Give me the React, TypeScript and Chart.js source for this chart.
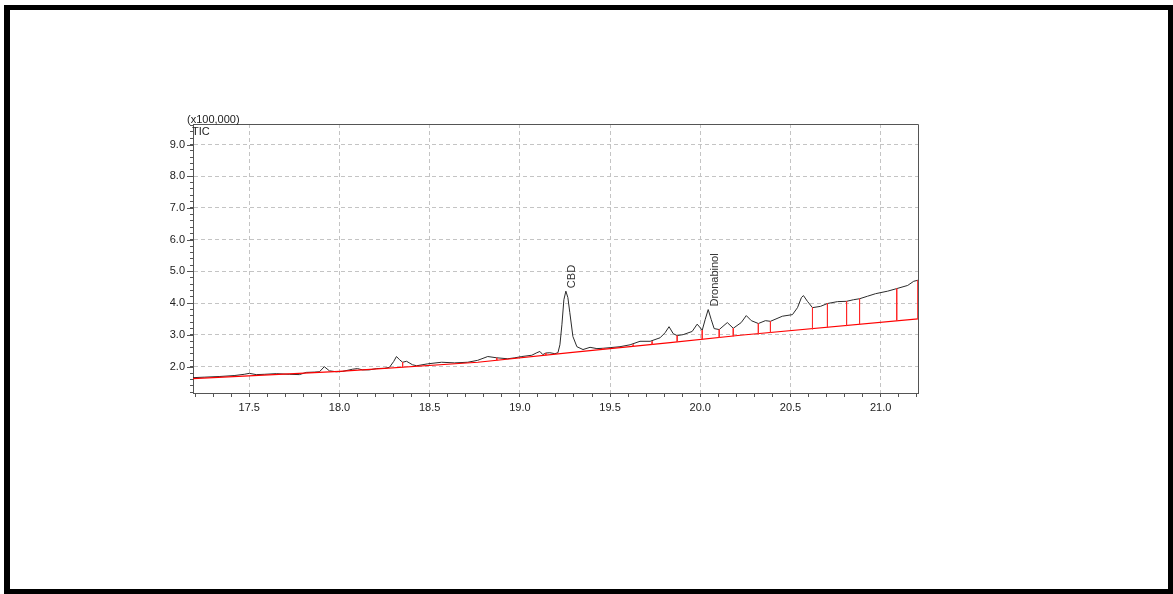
import React, { useEffect, useRef } from 'react';
import { Chart, registerables } from 'chart.js';

Chart.register(...registerables);

// Retention time (min) of the TIC trace
const ticTimes = [
  17.172, 17.25, 17.333, 17.416, 17.472, 17.5, 17.539, 17.583, 17.65, 17.722,
  17.778, 17.816, 17.861, 17.889, 17.916, 17.944, 17.983, 18.016, 18.072, 18.1,
  18.127, 18.166, 18.205, 18.25, 18.277, 18.3, 18.316, 18.333, 18.35, 18.372,
  18.405, 18.428, 18.489, 18.566, 18.638, 18.711, 18.766, 18.822, 18.872, 18.933,
  18.972, 19.011, 19.066, 19.094, 19.111, 19.127, 19.144, 19.166, 19.194, 19.211,
  19.222, 19.233, 19.244, 19.255, 19.266, 19.277, 19.294, 19.316, 19.35, 19.389,
  19.427, 19.461, 19.5, 19.555, 19.611, 19.666, 19.722, 19.777, 19.805, 19.827,
  19.85, 19.872, 19.905, 19.955, 19.983, 20.011, 20.027, 20.044, 20.061, 20.077,
  20.105, 20.15, 20.183, 20.227, 20.255, 20.283, 20.322, 20.361, 20.389, 20.455,
  20.511, 20.539, 20.561, 20.572, 20.594, 20.622, 20.666, 20.705, 20.761, 20.811,
  20.85, 20.883, 20.927, 20.972, 21.039, 21.089, 21.15, 21.183, 21.211,
];
// Intensity (x100,000)
const ticValues = [
  1.65, 1.67, 1.69, 1.72, 1.76, 1.79, 1.75, 1.76, 1.78, 1.76,
  1.75, 1.82, 1.83, 1.84, 2.0, 1.87, 1.84, 1.85, 1.92, 1.94,
  1.9, 1.9, 1.94, 1.95, 1.98, 2.16, 2.32, 2.22, 2.14, 2.17,
  2.06, 2.03, 2.09, 2.14, 2.12, 2.14, 2.2, 2.32, 2.28, 2.25,
  2.28, 2.32, 2.36, 2.44, 2.48, 2.38, 2.43, 2.44, 2.41, 2.44,
  2.69, 3.32, 4.11, 4.38, 4.18, 3.7, 2.95, 2.63, 2.54, 2.61,
  2.57, 2.58, 2.6, 2.63, 2.69, 2.8, 2.8, 2.91, 3.07, 3.26,
  3.04, 2.98, 3.01, 3.11, 3.34, 3.15, 3.48, 3.8, 3.48, 3.2,
  3.17, 3.39, 3.21, 3.39, 3.61, 3.45, 3.36, 3.45, 3.43, 3.59,
  3.64, 3.86, 4.18, 4.24, 4.06, 3.86, 3.9, 3.99, 4.05, 4.06,
  4.11, 4.14, 4.22, 4.3, 4.38, 4.46, 4.56, 4.69, 4.73,
];

// Integration baseline (red)
const baselineTimes = [17.172, 18.0, 18.767, 19.278, 19.833, 20.222, 21.211];
const baselineValues = [1.62, 1.85, 2.14, 2.44, 2.76, 2.99, 3.51];

// Peak boundary drop lines (red verticals)
const dropTimes = [
  17.983, 18.35, 18.428, 18.872, 19.144, 19.461, 19.628, 19.733, 19.872, 20.011,
  20.105, 20.183, 20.322, 20.389, 20.622, 20.705, 20.811, 20.883, 21.089, 21.207,
];
const dropTops = [
  1.84, 2.14, 2.03, 2.28, 2.43, 2.58, 2.7, 2.8, 2.98, 3.15,
  3.17, 3.21, 3.36, 3.43, 3.86, 3.99, 4.06, 4.14, 4.46, 4.73,
];
const dropBottoms = [
  1.85, 1.98, 2.01, 2.2, 2.36, 2.55, 2.64, 2.7, 2.78, 2.86,
  2.91, 2.96, 3.02, 3.06, 3.18, 3.23, 3.28, 3.32, 3.44, 3.51,
];

// Peak annotations
const peakLabels = ['CBD', 'Dronabinol'];
const peakTimes = [19.255, 20.044];
const peakValues = [4.38, 3.8];

// Axis ticks
const xTickValues = [
  17.2, 17.3, 17.4, 17.5, 17.6, 17.7, 17.8, 17.9, 18.0, 18.1, 18.2, 18.3, 18.4,
  18.5, 18.6, 18.7, 18.8, 18.9, 19.0, 19.1, 19.2, 19.3, 19.4, 19.5, 19.6, 19.7,
  19.8, 19.9, 20.0, 20.1, 20.2, 20.3, 20.4, 20.5, 20.6, 20.7, 20.8, 20.9, 21.0,
  21.1, 21.2,
];
const xLabelTicks = [17.5, 18.0, 18.5, 19.0, 19.5, 20.0, 20.5, 21.0];
const yTickValues = [
  1.2, 1.4, 1.6, 1.8, 2.0, 2.2, 2.4, 2.6, 2.8, 3.0, 3.2, 3.4, 3.6, 3.8, 4.0,
  4.2, 4.4, 4.6, 4.8, 5.0, 5.2, 5.4, 5.6, 5.8, 6.0, 6.2, 6.4, 6.6, 6.8, 7.0,
  7.2, 7.4, 7.6, 7.8, 8.0, 8.2, 8.4, 8.6, 8.8, 9.0, 9.2, 9.4, 9.6,
];
const yLabelTicks = [2.0, 3.0, 4.0, 5.0, 6.0, 7.0, 8.0, 9.0];

const FONT = '"Liberation Sans", Arial, sans-serif';
const TEXT = '#222222';

const isIn = (list: number[], v: number) => list.some((m) => Math.abs(m - v) < 1e-6);

const overlayPlugin = {
  id: 'overlay',
  afterDraw(chart: any) {
    const { ctx, chartArea, scales } = chart;
    const xs = scales.x;
    const ys = scales.y;
    ctx.save();
    // top and right frame
    ctx.strokeStyle = '#555555';
    ctx.lineWidth = 1;
    ctx.beginPath();
    ctx.moveTo(Math.round(chartArea.left) + 0.5, Math.round(chartArea.top) + 0.5);
    ctx.lineTo(Math.round(chartArea.right) + 0.5, Math.round(chartArea.top) + 0.5);
    ctx.lineTo(Math.round(chartArea.right) + 0.5, Math.round(chartArea.bottom) + 0.5);
    ctx.stroke();
    // longer major y ticks
    ctx.beginPath();
    yLabelTicks.forEach((v) => {
      const py = Math.round(ys.getPixelForValue(v)) + 0.5;
      ctx.moveTo(chartArea.left - 6, py);
      ctx.lineTo(chartArea.left, py);
    });
    ctx.stroke();
    // axis captions
    ctx.fillStyle = TEXT;
    ctx.font = `11px ${FONT}`;
    ctx.textAlign = 'left';
    ctx.textBaseline = 'alphabetic';
    ctx.fillText('(x100,000)', chartArea.left - 6, chartArea.top - 1);
    ctx.fillText('TIC', chartArea.left - 1, chartArea.top + 11);
    // peak labels
    ctx.fillStyle = '#333333';
    peakLabels.forEach((label, i) => {
      const px = xs.getPixelForValue(peakTimes[i]);
      const py = ys.getPixelForValue(peakValues[i]);
      ctx.save();
      ctx.translate(px + 9.5, py - 3);
      ctx.rotate(-Math.PI / 2);
      ctx.textAlign = 'left';
      ctx.textBaseline = 'alphabetic';
      ctx.fillText(label, 0, 0);
      ctx.restore();
    });
    ctx.restore();
  },
};

export default function App() {
  const canvasRef = useRef<HTMLCanvasElement | null>(null);

  useEffect(() => {
    if (!canvasRef.current) return;
    const ticData = ticTimes.map((t, i) => ({ x: t, y: ticValues[i] }));
    const baseData = baselineTimes.map((t, i) => ({ x: t, y: baselineValues[i] }));
    const dropData: { x: number; y: number | null }[] = [];
    dropTimes.forEach((t, i) => {
      dropData.push({ x: t, y: dropTops[i] });
      dropData.push({ x: t, y: dropBottoms[i] });
      dropData.push({ x: t, y: null });
    });

    const chart = new Chart(canvasRef.current, {
      type: 'line',
      data: {
        datasets: [
          {
            data: dropData as any,
            borderColor: '#ff2a2a',
            borderWidth: 1,
            pointRadius: 0,
            spanGaps: false,
            fill: false,
            tension: 0,
          },
          {
            data: baseData,
            borderColor: '#ff0000',
            borderWidth: 1.2,
            pointRadius: 0,
            fill: false,
            tension: 0,
          },
          {
            data: ticData,
            borderColor: '#2b2b2b',
            borderWidth: 1,
            pointRadius: 0,
            fill: false,
            tension: 0,
          },
        ],
      },
      options: {
        responsive: false,
        animation: false,
        devicePixelRatio: 1,
        events: [],
        layout: { padding: { left: 150, right: 255, top: 124, bottom: 171 } },
        plugins: { legend: { display: false }, tooltip: { enabled: false } },
        scales: {
          x: {
            type: 'linear',
            min: 17.188,
            max: 21.207,
            afterBuildTicks: (scale: any) => {
              scale.ticks = xTickValues.map((v) => ({ value: v }));
            },
            afterFit: (scale: any) => {
              scale.height = 30;
            },
            ticks: {
              autoSkip: false,
              maxRotation: 0,
              padding: 4,
              color: TEXT,
              font: { family: FONT, size: 11 },
              callback: (v: any) => (isIn(xLabelTicks, Number(v)) ? Number(v).toFixed(1) : ''),
            },
            grid: {
              color: (c: any) => (c.tick && isIn(xLabelTicks, c.tick.value) ? '#c4c4c4' : 'rgba(0,0,0,0)'),
              lineWidth: 1,
              tickColor: '#555555',
              tickLength: 4,
              drawTicks: true,
            },
            border: { display: true, color: '#555555', width: 1, dash: [4, 3] },
          },
          y: {
            type: 'linear',
            min: 1.171,
            max: 9.646,
            afterBuildTicks: (scale: any) => {
              scale.ticks = yTickValues.map((v) => ({ value: v }));
            },
            afterFit: (scale: any) => {
              scale.width = 43;
            },
            ticks: {
              autoSkip: false,
              padding: 5,
              color: TEXT,
              font: { family: FONT, size: 11 },
              callback: (v: any) => (isIn(yLabelTicks, Number(v)) ? Number(v).toFixed(1) : ''),
            },
            grid: {
              color: (c: any) => (c.tick && isIn(yLabelTicks, c.tick.value) ? '#c4c4c4' : 'rgba(0,0,0,0)'),
              lineWidth: 1,
              tickColor: '#555555',
              tickLength: 3,
              drawTicks: true,
            },
            border: { display: true, color: '#555555', width: 1, dash: [4, 3] },
          },
        },
      },
      plugins: [overlayPlugin],
    });
    return () => chart.destroy();
  }, []);

  return (
    <div style={{ position: 'absolute', left: 0, top: 0, width: 1173, height: 594, background: '#ffffff' }}>
      <canvas ref={canvasRef} width={1173} height={594} style={{ position: 'absolute', left: 0, top: 0 }} />
      <div
        style={{
          position: 'absolute',
          left: 4,
          top: 5,
          width: 1169,
          height: 589,
          boxSizing: 'border-box',
          border: '5px solid #000000',
          borderLeftWidth: 6,
          pointerEvents: 'none',
        }}
      />
    </div>
  );
}
